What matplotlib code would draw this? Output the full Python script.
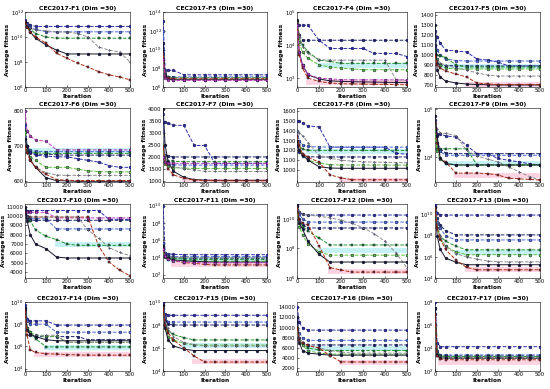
import matplotlib
matplotlib.use("Agg")
import matplotlib.pyplot as plt
import numpy as np

iters = [1, 10, 25, 50, 100, 150, 200, 250, 300, 350, 400, 450, 500]

titles = ["CEC2017-F1 (Dim =30)", "CEC2017-F3 (Dim =30)", "CEC2017-F4 (Dim =30)", "CEC2017-F5 (Dim =30)",
          "CEC2017-F6 (Dim =30)", "CEC2017-F7 (Dim =30)", "CEC2017-F8 (Dim =30)", "CEC2017-F9 (Dim =30)",
          "CEC2017-F10 (Dim =30)", "CEC2017-F11 (Dim =30)", "CEC2017-F12 (Dim =30)", "CEC2017-F13 (Dim =30)",
          "CEC2017-F14 (Dim =30)", "CEC2017-F15 (Dim =30)", "CEC2017-F16 (Dim =30)", "CEC2017-F17 (Dim =30)"]

yscales = ["log", "log", "log", "linear", "linear", "linear", "linear", "log",
           "linear", "log", "log", "log", "log", "log", "linear", "log"]

ylims = [(1e6, 1e12), (1e6, 1e14), (540, 1e5), (680, 1430),
         (598, 810), (950, 4050), (877, 1633), (3e3, 1.05e5),
         (3350, 11300), (40, 1.5e10), (1e6, 1e11), (1e4, 1e11),
         (6e3, 1e10), (1e4, 1e10), (1500, 15000), (1e2, 1e8)]

yticks = [[1e6, 1e8, 1e10, 1e12], [1e6, 1e8, 1e10, 1e12, 1e14], [1e3, 1e4, 1e5], list(range(700, 1401, 100)),
          [600, 700, 800], list(range(1000, 4001, 500)), list(range(1000, 1601, 100)), [1e4, 1e5],
          list(range(4000, 11001, 1000)), [1e2, 1e4, 1e6, 1e8, 1e10], [1e6, 1e8, 1e10], [1e4, 1e6, 1e8, 1e10],
          [1e4, 1e6, 1e8, 1e10], [1e4, 1e6, 1e8, 1e10], list(range(2000, 14001, 2000)), [1e2, 1e4, 1e6, 1e8]]

f1 = {
    "blue1": [2.2e11, 1.3e11, 9e10, 7e10, 7e10, 7e10, 7e10, 7e10, 7e10, 7e10, 7e10, 7e10, 7e10],
    "blue2": [1.6e11, 1e11, 6.3e10, 4e10, 2.6e10, 2.6e10, 2.6e10, 2.6e10, 2.6e10, 2.6e10, 2.6e10, 2.6e10, 2.6e10],
    "green1": [1.3e11, 6.3e10, 4e10, 1.9e10, 1e10, 8e9, 8e9, 8e9, 8e9, 8e9, 8e9, 8e9, 8e9],
    "gray": [1.6e11, 8e10, 5e10, 3.6e10, 3.2e10, 2.5e10, 2.5e10, 1.9e10, 1e10, 1.6e9, 9e8, 6.3e8, 1e8],
    "black": [1.6e11, 6.3e10, 2.5e10, 8e9, 2.3e9, 9e8, 4.4e8, 4.4e8, 4.4e8, 4.4e8, 4.4e8, 4.4e8, 4.4e8],
    "red": [1.6e11, 6.3e10, 2.5e10, 1e10, 3.2e9, 5e8, 2e8, 8e7, 4e7, 1.7e7, 9.5e6, 6.3e6, 3.8e6],
}
f3 = {
    "blue1": [1e13, 6e7, 6e7, 6e7, 2e7, 2e7, 2e7, 2e7, 2e7, 2e7, 2e7, 2e7, 2e7],
    "blue2": [1e12, 3e7, 1.3e7, 1.2e7, 1.2e7, 1.2e7, 1.2e7, 1.2e7, 1.2e7, 1.2e7, 1.2e7, 1.2e7, 1.2e7],
    "green1": [8e8, 2e7, 1.1e7, 1e7, 1e7, 1e7, 1e7, 1e7, 1e7, 1e7, 1e7, 1e7, 1e7],
    "gray": [1e10, 2e7, 1e7, 9e6, 9e6, 9e6, 9e6, 9e6, 9e6, 9e6, 9e6, 9e6, 9e6],
    "black": [5e10, 1.5e7, 7e6, 6e6, 6e6, 6e6, 6e6, 6e6, 6e6, 6e6, 6e6, 6e6, 6e6],
    "red": [3e9, 1.2e7, 9e6, 7.6e6, 7.6e6, 7.6e6, 7.6e6, 7.6e6, 7.6e6, 7.6e6, 7.6e6, 7.6e6, 7.6e6],
    "magenta": [1e9, 1e7, 6e6, 5e6, 5e6, 5e6, 5e6, 5e6, 5e6, 5e6, 5e6, 5e6, 5e6],
}
f4 = {
    "navy": [4e4, 2e4, 1.4e4, 1.4e4, 1.4e4, 1.4e4, 1.4e4, 1.4e4, 1.4e4, 1.4e4, 1.4e4, 1.4e4, 1.4e4],
    "blue1": [4e4, 4e4, 4e4, 4e4, 1.4e4, 7.9e3, 7.9e3, 7.9e3, 7.9e3, 5.6e3, 5.6e3, 5.6e3, 4.5e3],
    "green1": [4.5e4, 1.6e4, 1e4, 6.3e3, 3.5e3, 3.2e3, 2.8e3, 2.8e3, 2.8e3, 2.8e3, 2.8e3, 2.8e3, 2.8e3],
    "green2": [5e4, 1.2e4, 6e3, 4e3, 2.5e3, 2.2e3, 2e3, 1.9e3, 1.8e3, 1.8e3, 1.8e3, 1.8e3, 1.8e3],
    "gray": [5.6e4, 2.2e4, 9e3, 5.6e3, 3.6e3, 3.5e3, 3.5e3, 3.5e3, 3.5e3, 3.5e3, 3.5e3, 900, 850],
    "black": [5.6e4, 6.3e3, 2.5e3, 1.26e3, 950, 830, 800, 780, 770, 760, 750, 745, 740],
    "red": [4.5e4, 5e3, 2e3, 1e3, 800, 710, 680, 670, 660, 650, 645, 640, 630],
    "magenta": [4e4, 6e3, 2.5e3, 1.3e3, 1e3, 950, 900, 890, 890, 890, 890, 890, 890],
    "cyan": [np.nan, np.nan, np.nan, np.nan, 2.5e3, 2.5e3, 2.5e3, 2.5e3, 2.5e3, 2.5e3, 2.5e3, 2.5e3, 2.5e3],
    "pink": [np.nan, np.nan, np.nan, 740, 740, 740, 740, 740, 740, 740, 740, 740, 740],
}
f5 = {
    "blue1": [1240, 1180, 1120, 1050, 1040, 1030, 960, 950, 930, 890, 890, 890, 890],
    "blue2": [1150, 1050, 1000, 960, 945, 940, 940, 940, 940, 940, 940, 940, 940],
    "navy": [1100, 920, 900, 895, 892, 890, 890, 890, 890, 890, 890, 890, 890],
    "green1": [1050, 1000, 990, 975, 900, 880, 880, 880, 880, 880, 880, 880, 880],
    "green2": [1000, 960, 900, 870, 860, 860, 860, 860, 860, 860, 860, 860, 860],
    "gray": [1000, 950, 920, 900, 870, 850, 820, 800, 790, 790, 790, 790, 790],
    "black": [1300, 850, 780, 740, 720, 710, 705, 702, 700, 700, 700, 700, 700],
    "red": [1000, 900, 870, 840, 810, 780, 720, 710, 705, 705, 705, 705, 705],
    "cyan": [np.nan, np.nan, 895, 895, 895, 895, 895, 895, 895, 895, 895, 895, 895],
    "pink": [np.nan, np.nan, np.nan, np.nan, np.nan, 715, 715, 715, 715, 715, 715, 715, 715],
}
f6 = {
    "magenta": [800, 745, 730, 718, 715, 690, 690, 690, 690, 690, 690, 690, 690],
    "blue2": [720, 700, 690, 686, 685, 685, 685, 685, 685, 685, 685, 685, 685],
    "navy": [740, 690, 680, 678, 677, 676, 675, 675, 675, 675, 675, 675, 675],
    "green1": [750, 700, 685, 682, 680, 680, 680, 680, 680, 680, 680, 680, 680],
    "blue1": [760, 700, 685, 675, 672, 670, 670, 665, 660, 655, 645, 640, 640],
    "green2": [740, 690, 670, 660, 640, 640, 640, 635, 630, 628, 627, 627, 627],
    "gray": [730, 690, 665, 640, 625, 618, 617, 617, 617, 617, 617, 617, 617],
    "black": [720, 700, 660, 640, 610, 602, 601, 600, 600, 600, 600, 600, 600],
    "red": [700, 680, 660, 640, 620, 605, 603, 602, 602, 602, 602, 602, 602],
    "cyan": [np.nan, np.nan, 690, 690, 690, 690, 690, 690, 690, 690, 690, 690, 690],
}
f7 = {
    "blue1": [3460, 3450, 3420, 3330, 3320, 2480, 2480, 1730, 1730, 1730, 1730, 1730, 1730],
    "navy": [2500, 2100, 2020, 2000, 2000, 2000, 2000, 2000, 2000, 2000, 2000, 2000, 2000],
    "green1": [2500, 1900, 1850, 1820, 1800, 1800, 1800, 1800, 1800, 1800, 1800, 1800, 1800],
    "blue2": [3800, 1800, 1700, 1670, 1660, 1660, 1660, 1660, 1660, 1660, 1660, 1660, 1660],
    "green2": [2300, 1700, 1600, 1550, 1530, 1520, 1520, 1520, 1520, 1520, 1520, 1520, 1520],
    "gray": [3000, 2000, 1700, 1600, 1500, 1450, 1400, 1390, 1390, 1390, 1390, 1390, 1390],
    "black": [4000, 2500, 1800, 1400, 1150, 1050, 1030, 1020, 1020, 1020, 1020, 1020, 1020],
    "red": [2400, 1800, 1500, 1250, 1100, 1030, 1010, 1005, 1000, 1000, 1000, 1000, 1000],
    "magenta": [2000, 1800, 1750, 1740, 1730, 1730, 1730, 1730, 1730, 1730, 1730, 1730, 1730],
    "pink": [np.nan, np.nan, np.nan, np.nan, 1000, 1000, 1000, 1000, 1000, 1000, 1000, 1000, 1000],
}
f8 = {
    "blue1": [1500, 1500, 1480, 1450, 1440, 1233, 1233, 1233, 1233, 1233, 1233, 1170, 1160],
    "blue2": [1400, 1300, 1250, 1240, 1235, 1235, 1233, 1233, 1233, 1233, 1233, 1233, 1233],
    "navy": [1250, 1180, 1140, 1135, 1133, 1133, 1133, 1133, 1133, 1133, 1133, 1133, 1133],
    "green1": [1350, 1250, 1210, 1200, 1200, 1200, 1200, 1200, 1200, 1200, 1200, 1200, 1200],
    "green2": [1300, 1200, 1150, 1100, 1070, 1055, 1050, 1050, 1050, 1050, 1050, 1050, 1050],
    "gray": [1400, 1380, 1350, 1280, 1150, 1120, 1100, 1090, 1085, 1080, 1078, 1076, 1075],
    "black": [1300, 1200, 1150, 1100, 1033, 1020, 1017, 1017, 1017, 1017, 1017, 1017, 1017],
    "red": [1350, 1250, 1167, 1130, 1080, 950, 920, 900, 900, 900, 900, 900, 900],
    "cyan": [np.nan, np.nan, np.nan, 1190, 1190, 1190, 1190, 1190, 1190, 1190, 1190, 1190, 1190],
    "pink": [np.nan, np.nan, np.nan, np.nan, np.nan, np.nan, 900, 900, 900, 900, 900, 900, 900],
}
f9 = {
    "blue1": [6e4, 3e4, 3e4, 2.75e4, 2.6e4, 1.74e4, 1.17e4, 1.17e4, 9.3e3, 8.5e3, 7.9e3, 7.2e3, 6.8e3],
    "navy": [5e4, 2e4, 1.5e4, 1.2e4, 1.17e4, 1.17e4, 1.17e4, 1.17e4, 1.17e4, 1.17e4, 1.17e4, 1.17e4, 1.17e4],
    "blue2": [4e4, 1.6e4, 1.3e4, 1.1e4, 1.08e4, 1.08e4, 1.08e4, 1.08e4, 1.08e4, 1.08e4, 1.08e4, 1.08e4, 1.08e4],
    "green1": [5e4, 1.48e4, 1.48e4, 1.48e4, 1.48e4, 1.48e4, 6.8e3, 6.8e3, 6.8e3, 6.8e3, 6.8e3, 6.8e3, 6.8e3],
    "green2": [3e4, 1.3e4, 9e3, 7.5e3, 6.8e3, 6.8e3, 6.8e3, 6.8e3, 6.8e3, 6.8e3, 6.8e3, 6.8e3, 6.8e3],
    "gray": [7e4, 3.8e4, 3.2e4, 3.1e4, 2.8e4, 1.37e4, 1.05e4, 9e3, 7.9e3, 6.2e3, 4.9e3, 3.9e3, 3.3e3],
    "red": [7e4, 2e4, 9.3e3, 7.9e3, 4.6e3, 4.6e3, 4.6e3, 4.5e3, 4.2e3, 3.6e3, 3.5e3, 3.4e3, 3.3e3],
    "black": [7e4, 2.8e4, 9.3e3, 7.3e3, 6.8e3, 6.8e3, 6.8e3, 6.8e3, 6.8e3, 6.8e3, 6.8e3, 6.8e3, 6.8e3],
    "pink": [np.nan, np.nan, np.nan, np.nan, 4.2e3, 4.2e3, 4.2e3, 4.2e3, 4.2e3, 4.2e3, 4.2e3, 4.2e3, 4.2e3],
    "cyan": [np.nan, np.nan, np.nan, 7.5e3, 7.5e3, 7.5e3, 7.5e3, 7.5e3, 7.5e3, 7.5e3, 7.5e3, 7.5e3, 7.5e3],
}
f10 = {
    "blue1": [10600, 10600, 10600, 10600, 10600, 10600, 10600, 10600, 10600, 10600, 9650, 9650, 9650],
    "blue2": [10500, 10000, 9720, 9720, 9720, 8620, 8620, 8620, 8620, 8620, 8620, 8620, 8620],
    "navy": [10800, 9800, 9550, 9550, 9550, 9550, 9550, 9550, 9550, 9550, 9550, 9550, 9550],
    "magenta": [10400, 10400, 10400, 10400, 10400, 9800, 9800, 9800, 9800, 9800, 9800, 9800, 9800],
    "red": [10200, 9900, 9900, 9900, 9900, 9900, 9900, 9900, 9900, 6800, 5070, 4200, 3590],
    "green1": [10000, 9900, 9500, 8517, 7830, 7480, 7000, 6860, 6860, 6860, 6860, 6860, 6860],
    "gray": [10000, 9900, 9900, 9900, 9900, 9900, 9900, 9900, 8517, 7650, 6620, 6100, 5760],
    "black": [11000, 9500, 8000, 7000, 6500, 5600, 5500, 5500, 5500, 5500, 5500, 5500, 5500],
    "cyan": [np.nan, np.nan, np.nan, np.nan, np.nan, 7000, 7000, 7000, 7000, 7000, 7000, 7000, 7000],
}
f11 = {
    "blue1": [1e10, 3e4, 2.5e4, 2.2e4, 2e4, 2e4, 2e4, 2e4, 2e4, 2e4, 2e4, 2e4, 2e4],
    "blue2": [4e5, 3e4, 1.5e4, 1.2e4, 1.2e4, 1.2e4, 1.2e4, 1.2e4, 1.2e4, 1.2e4, 1.2e4, 1.2e4, 1.2e4],
    "navy": [1e5, 2e4, 1.2e4, 9e3, 8e3, 8e3, 8e3, 8e3, 8e3, 8e3, 8e3, 8e3, 8e3],
    "green1": [1e5, 2e4, 1e4, 8e3, 6e3, 5.5e3, 5.5e3, 5.5e3, 5.5e3, 5.5e3, 5.5e3, 5.5e3, 5.5e3],
    "green2": [5e4, 1.2e4, 7e3, 5e3, 4e3, 3.5e3, 3.5e3, 3.5e3, 3.5e3, 3.5e3, 3.5e3, 3.5e3, 3.5e3],
    "gray": [3e5, 2e4, 1.2e4, 1e4, 1e4, 9e3, 9e3, 9e3, 9e3, 9e3, 9e3, 9e3, 9e3],
    "black": [2e5, 1.5e4, 8e3, 5e3, 4e3, 3.5e3, 3e3, 2.8e3, 2.8e3, 2.8e3, 2.8e3, 2.8e3, 2.8e3],
    "red": [1e5, 1e4, 6e3, 4e3, 2.5e3, 2e3, 1.5e3, 1.3e3, 1.3e3, 1.3e3, 1.3e3, 1.3e3, 1.3e3],
    "magenta": [1e5, 1.5e4, 6e3, 4e3, 3e3, 2.5e3, 2.3e3, 2.3e3, 2.3e3, 2.3e3, 2.3e3, 2.3e3, 2.3e3],
    "cyan": [np.nan, np.nan, 6e3, 6e3, 6e3, 6e3, 6e3, 6e3, 6e3, 6e3, 6e3, 6e3, 6e3],
    "pink": [np.nan, np.nan, np.nan, 1.5e3, 1.5e3, 1.5e3, 1.5e3, 1.5e3, 1.5e3, 1.5e3, 1.5e3, 1.5e3, 1.5e3],
}
f12 = {
    "blue1": [1e11, 3e10, 2e10, 1.8e10, 1.8e10, 1.8e10, 1.8e10, 1.8e10, 1.8e10, 1.8e10, 1.8e10, 1.8e10, 1.8e10],
    "blue2": [8e10, 2e10, 1e10, 6e9, 6e9, 6e9, 6e9, 6e9, 6e9, 6e9, 6e9, 6e9, 6e9],
    "navy": [8e10, 1e10, 4e9, 2.4e9, 2.4e9, 2.4e9, 2.4e9, 2.4e9, 2.4e9, 2.4e9, 2.4e9, 2.4e9, 2.4e9],
    "green1": [6e10, 8e9, 3e9, 1.5e9, 5e8, 1.7e8, 1.7e8, 1.7e8, 1.7e8, 1.7e8, 1.7e8, 1.7e8, 1.7e8],
    "green2": [5e10, 3e9, 8e8, 2e8, 6e7, 3.5e7, 3.5e7, 3.5e7, 3.5e7, 3.5e7, 3.5e7, 3.5e7, 3.5e7],
    "gray": [8e10, 3e10, 2e10, 1.8e10, 1.5e10, 1.2e10, 8e9, 5e9, 2.5e9, 1e9, 3e8, 5e7, 4.8e6],
    "black": [7e10, 5e9, 2e9, 3e8, 4e7, 1.2e7, 1.2e7, 1.2e7, 1.2e7, 1.2e7, 1.2e7, 1.2e7, 1.2e7],
    "red": [6e10, 8e9, 5e9, 4e9, 1.5e8, 5e6, 3.5e6, 2.5e6, 2.5e6, 2.5e6, 2.5e6, 2.5e6, 2.5e6],
    "cyan": [np.nan, np.nan, np.nan, np.nan, 8e7, 8e7, 8e7, 8e7, 8e7, 8e7, 8e7, 8e7, 8e7],
    "pink": [np.nan, np.nan, np.nan, np.nan, np.nan, 3e6, 3e6, 3e6, 3e6, 3e6, 3e6, 3e6, 3e6],
}
f13 = {
    "blue1": [8e10, 1.5e10, 1e10, 9e9, 9e9, 9e9, 9e9, 9e9, 9e9, 9e9, 9e9, 9e9, 9e9],
    "navy": [5e10, 5e9, 1e9, 3e8, 1.2e8, 1.2e8, 1.2e8, 1.2e8, 1.2e8, 1.2e8, 1.2e8, 1.2e8, 1.2e8],
    "blue2": [5e10, 2e9, 5e8, 1e8, 4e7, 4e7, 4e7, 4e7, 4e7, 4e7, 4e7, 4e7, 4e7],
    "green1": [4e10, 1e9, 1e8, 3e7, 1e7, 4.6e6, 4.6e6, 4.6e6, 4.6e6, 4.6e6, 4.6e6, 4.6e6, 4.6e6],
    "green2": [3e10, 5e8, 5e7, 1e7, 3e6, 1.6e6, 1.6e6, 1.6e6, 1.6e6, 1.6e6, 1.6e6, 1.6e6, 1.6e6],
    "gray": [5e10, 1e9, 1e8, 1e7, 2e6, 1e6, 6e5, 4e5, 3.4e5, 3.4e5, 3.4e5, 3.4e5, 3.4e5],
    "black": [5e10, 1e8, 5e6, 8e5, 3e5, 1.8e5, 1.8e5, 1.8e5, 1.8e5, 1.8e5, 1.8e5, 1.8e5, 1.8e5],
    "red": [4e10, 5e8, 5e7, 5e6, 5e5, 1e5, 6e4, 6e4, 6e4, 6e4, 6e4, 6e4, 6e4],
    "cyan": [np.nan, np.nan, np.nan, np.nan, 3e6, 3e6, 3e6, 3e6, 3e6, 3e6, 3e6, 3e6, 3e6],
    "pink": [np.nan, np.nan, np.nan, np.nan, np.nan, 7e4, 7e4, 7e4, 7e4, 7e4, 7e4, 7e4, 7e4],
}
f14 = {
    "blue1": [5e9, 3e8, 2e8, 2e8, 2e8, 8.3e7, 8.3e7, 8.3e7, 8.3e7, 8.3e7, 8.3e7, 8.3e7, 8.3e7],
    "blue2": [3e9, 2e8, 1e8, 1e8, 1e8, 1.9e7, 1.9e7, 1.9e7, 1.9e7, 1.9e7, 1.9e7, 1.9e7, 1.9e7],
    "navy": [2e9, 5e7, 1e7, 7.6e6, 7.6e6, 7.6e6, 7.6e6, 7.6e6, 4e6, 4e6, 4e6, 4e6, 4e6],
    "green1": [1e9, 3e7, 1.9e7, 5e6, 9e5, 9e5, 9e5, 9e5, 9e5, 9e5, 9e5, 9e5, 9e5],
    "green2": [1e9, 5e7, 2e7, 1e7, 8e6, 8e6, 2.3e6, 2.3e6, 2.3e6, 2.3e6, 2.3e6, 2.3e6, 2.3e6],
    "gray": [3e9, 1e7, 1e7, 1e7, 1e7, 1e7, 2.3e6, 2.3e6, 2.3e6, 2.3e6, 2.3e6, 2.3e6, 2.3e6],
    "black": [3e9, 3e7, 1.2e7, 7.6e6, 4e6, 3.2e6, 3.2e6, 3.2e6, 3.2e6, 3.2e6, 3.2e6, 3.2e6, 3.2e6],
    "red": [2e9, 1e7, 5e5, 2.8e5, 2.2e5, 2e5, 1.8e5, 1.7e5, 1.6e5, 1.6e5, 1.6e5, 1.6e5, 1.6e5],
    "cyan": [np.nan, np.nan, np.nan, np.nan, 8e5, 8e5, 8e5, 8e5, 8e5, 8e5, 8e5, 8e5, 8e5],
    "pink": [np.nan, np.nan, np.nan, 2e5, 2e5, 2e5, 2e5, 2e5, 2e5, 2e5, 2e5, 2e5, 2e5],
}
f15 = {
    "blue1": [8e9, 1e9, 7e8, 7e8, 7e8, 7e8, 7e8, 7e8, 7e8, 7e8, 7e8, 7e8, 7e8],
    "blue2": [5e9, 5e8, 2e8, 1.8e8, 1.8e8, 1.8e8, 1.8e8, 1.8e8, 1.8e8, 1.8e8, 1.8e8, 1.8e8, 1.8e8],
    "navy": [5e9, 3e8, 1.2e8, 1e8, 1e8, 1e8, 1e8, 1e8, 1e8, 1e8, 1e8, 1e8, 1e8],
    "green1": [3e9, 1e8, 3e7, 1.5e7, 8e6, 5e6, 5e6, 5e6, 5e6, 5e6, 5e6, 5e6, 5e6],
    "green2": [3e9, 8e7, 1e7, 5e6, 2.5e6, 1.8e6, 1.8e6, 1.8e6, 1.8e6, 1.8e6, 1.8e6, 1.8e6, 1.8e6],
    "gray": [5e9, 2e8, 5e7, 1e7, 3e6, 2e6, 1.5e6, 1.5e6, 1.5e6, 1.5e6, 1.5e6, 1.5e6, 1.5e6],
    "black": [5e9, 5e7, 5e6, 1.5e6, 8e5, 6e5, 6e5, 6e5, 6e5, 6e5, 6e5, 6e5, 6e5],
    "red": [3e9, 1e8, 2e7, 5e6, 1e6, 2e5, 6e4, 6e4, 6e4, 6e4, 6e4, 6e4, 6e4],
    "cyan": [np.nan, np.nan, np.nan, np.nan, 2e6, 2e6, 2e6, 2e6, 2e6, 2e6, 2e6, 2e6, 2e6],
    "pink": [np.nan, np.nan, np.nan, np.nan, np.nan, 7e4, 7e4, 7e4, 7e4, 7e4, 7e4, 7e4, 7e4],
}
f16 = {
    "blue1": [14000, 11000, 10000, 9500, 9500, 9500, 9500, 9500, 9500, 9500, 9500, 9500, 9500],
    "blue2": [12000, 9000, 8000, 7500, 7500, 7500, 7500, 7500, 7500, 7500, 7500, 7500, 7500],
    "navy": [11000, 8000, 7000, 6600, 6600, 6600, 6600, 6600, 6600, 6600, 6600, 6600, 6600],
    "green1": [10000, 8000, 7000, 6000, 5600, 5500, 5500, 5500, 5500, 5500, 5500, 5500, 5500],
    "green2": [10000, 7500, 6500, 5500, 5000, 4800, 4800, 4800, 4800, 4800, 4800, 4800, 4800],
    "gray": [11000, 8000, 7000, 6500, 6000, 5500, 5200, 5000, 5000, 5000, 5000, 5000, 5000],
    "black": [12000, 7000, 5500, 5000, 4800, 4600, 4600, 4600, 4600, 4600, 4600, 4600, 4600],
    "red": [10000, 7500, 7000, 6500, 6000, 4500, 3300, 3260, 3260, 3260, 3260, 3260, 3260],
    "cyan": [np.nan, np.nan, np.nan, 6000, 6000, 6000, 6000, 6000, 6000, 6000, 6000, 6000, 6000],
    "pink": [np.nan, np.nan, np.nan, np.nan, np.nan, np.nan, 3300, 3300, 3300, 3300, 3300, 3300, 3300],
}
f17 = {
    "blue1": [1e8, 3e4, 1.3e4, 1.3e4, 1.3e4, 1.3e4, 1.3e4, 1.3e4, 1.3e4, 1.3e4, 1.3e4, 1.3e4, 1.3e4],
    "blue2": [3e7, 5e3, 2.6e3, 2.5e3, 2.5e3, 2.5e3, 2.5e3, 2.5e3, 2.5e3, 2.5e3, 2.5e3, 2.5e3, 2.5e3],
    "navy": [1e7, 4e3, 2.2e3, 2e3, 2e3, 2e3, 2e3, 2e3, 2e3, 2e3, 2e3, 2e3, 2e3],
    "green1": [5e6, 5e3, 2e3, 1.8e3, 1.8e3, 1.8e3, 1.8e3, 1.8e3, 1.8e3, 1.8e3, 1.8e3, 1.8e3, 1.8e3],
    "gray": [2e7, 3e3, 1.6e3, 1.5e3, 1.5e3, 1.5e3, 1.5e3, 1.5e3, 1.5e3, 1.5e3, 1.5e3, 1.5e3, 1.5e3],
    "black": [3e7, 2.5e3, 1.4e3, 1.3e3, 1.3e3, 1.3e3, 1.3e3, 1.3e3, 1.3e3, 1.3e3, 1.3e3, 1.3e3, 1.3e3],
    "red": [1e7, 2e3, 1.1e3, 1e3, 950, 950, 950, 950, 950, 950, 950, 950, 950],
    "pink": [np.nan, np.nan, 630, 630, 630, 630, 630, 630, 630, 630, 630, 630, 630],
}
panels = [f1, f3, f4, f5, f6, f7, f8, f9, f10, f11, f12, f13, f14, f15, f16, f17]

# line look for each algorithm
styles = {
    "blue1": dict(color="#2b2bb0", marker="o", ls="--"),
    "blue2": dict(color="#4a6ee0", marker="o", ls="--"),
    "navy": dict(color="#1c2470", marker="o", ls="--"),
    "green1": dict(color="#1f9a2a", marker="s", ls="--"),
    "green2": dict(color="#5cc23c", marker="o", ls="--"),
    "gray": dict(color="#8f8f8f", marker=".", ls="--"),
    "black": dict(color="#15152a", marker="o", ls="-"),
    "red": dict(color="#b02a10", marker="s", ls="--"),
    "magenta": dict(color="#c23cc2", marker="o", ls="--"),
}
bands = {"cyan": "#7fe0e8", "pink": "#ffa0c0"}

fig = plt.figure(figsize=(5.5, 3.89), dpi=100)
W, H = 550.0, 389.0
col_l = [25, 163, 297, 435]
col_w = [105, 104, 110, 105]
row_t = [12, 108, 204, 302]
row_b = [87, 182, 278, 371]

for k in range(16):
    r, c = divmod(k, 4)
    ax = fig.add_axes([col_l[c] / W, 1 - row_b[r] / H, col_w[c] / W, (row_b[r] - row_t[r]) / H])
    ax.set_yscale(yscales[k])
    for name, vals in panels[k].items():
        if name in bands:
            ax.plot(iters, vals, color=bands[name], lw=3.5, alpha=0.45, zorder=1)
        else:
            st = styles[name]
            ax.plot(iters, vals, color=st["color"], ls=st["ls"], lw=0.7, marker=st["marker"],
                    ms=2.0, mew=0.35, mec="#111133", zorder=3)
    ax.set_xlim(0, 500)
    ax.set_ylim(*ylims[k])
    ax.set_xticks([0, 100, 200, 300, 400, 500])
    ax.set_yticks(yticks[k])
    ax.minorticks_off()
    ax.tick_params(direction="in", length=1.5, width=0.4, labelsize=3.8, pad=1)
    for s in ax.spines.values():
        s.set_linewidth(0.4)
    ax.set_title(titles[k], fontsize=4.4, fontweight="bold", pad=1.5)
    ax.set_xlabel("Iteration", fontsize=4.2, fontweight="bold", labelpad=0.5)
    ax.set_ylabel("Average fitness", fontsize=4.2, fontweight="bold", labelpad=0.5)

fig.savefig("out.png", dpi=100)
